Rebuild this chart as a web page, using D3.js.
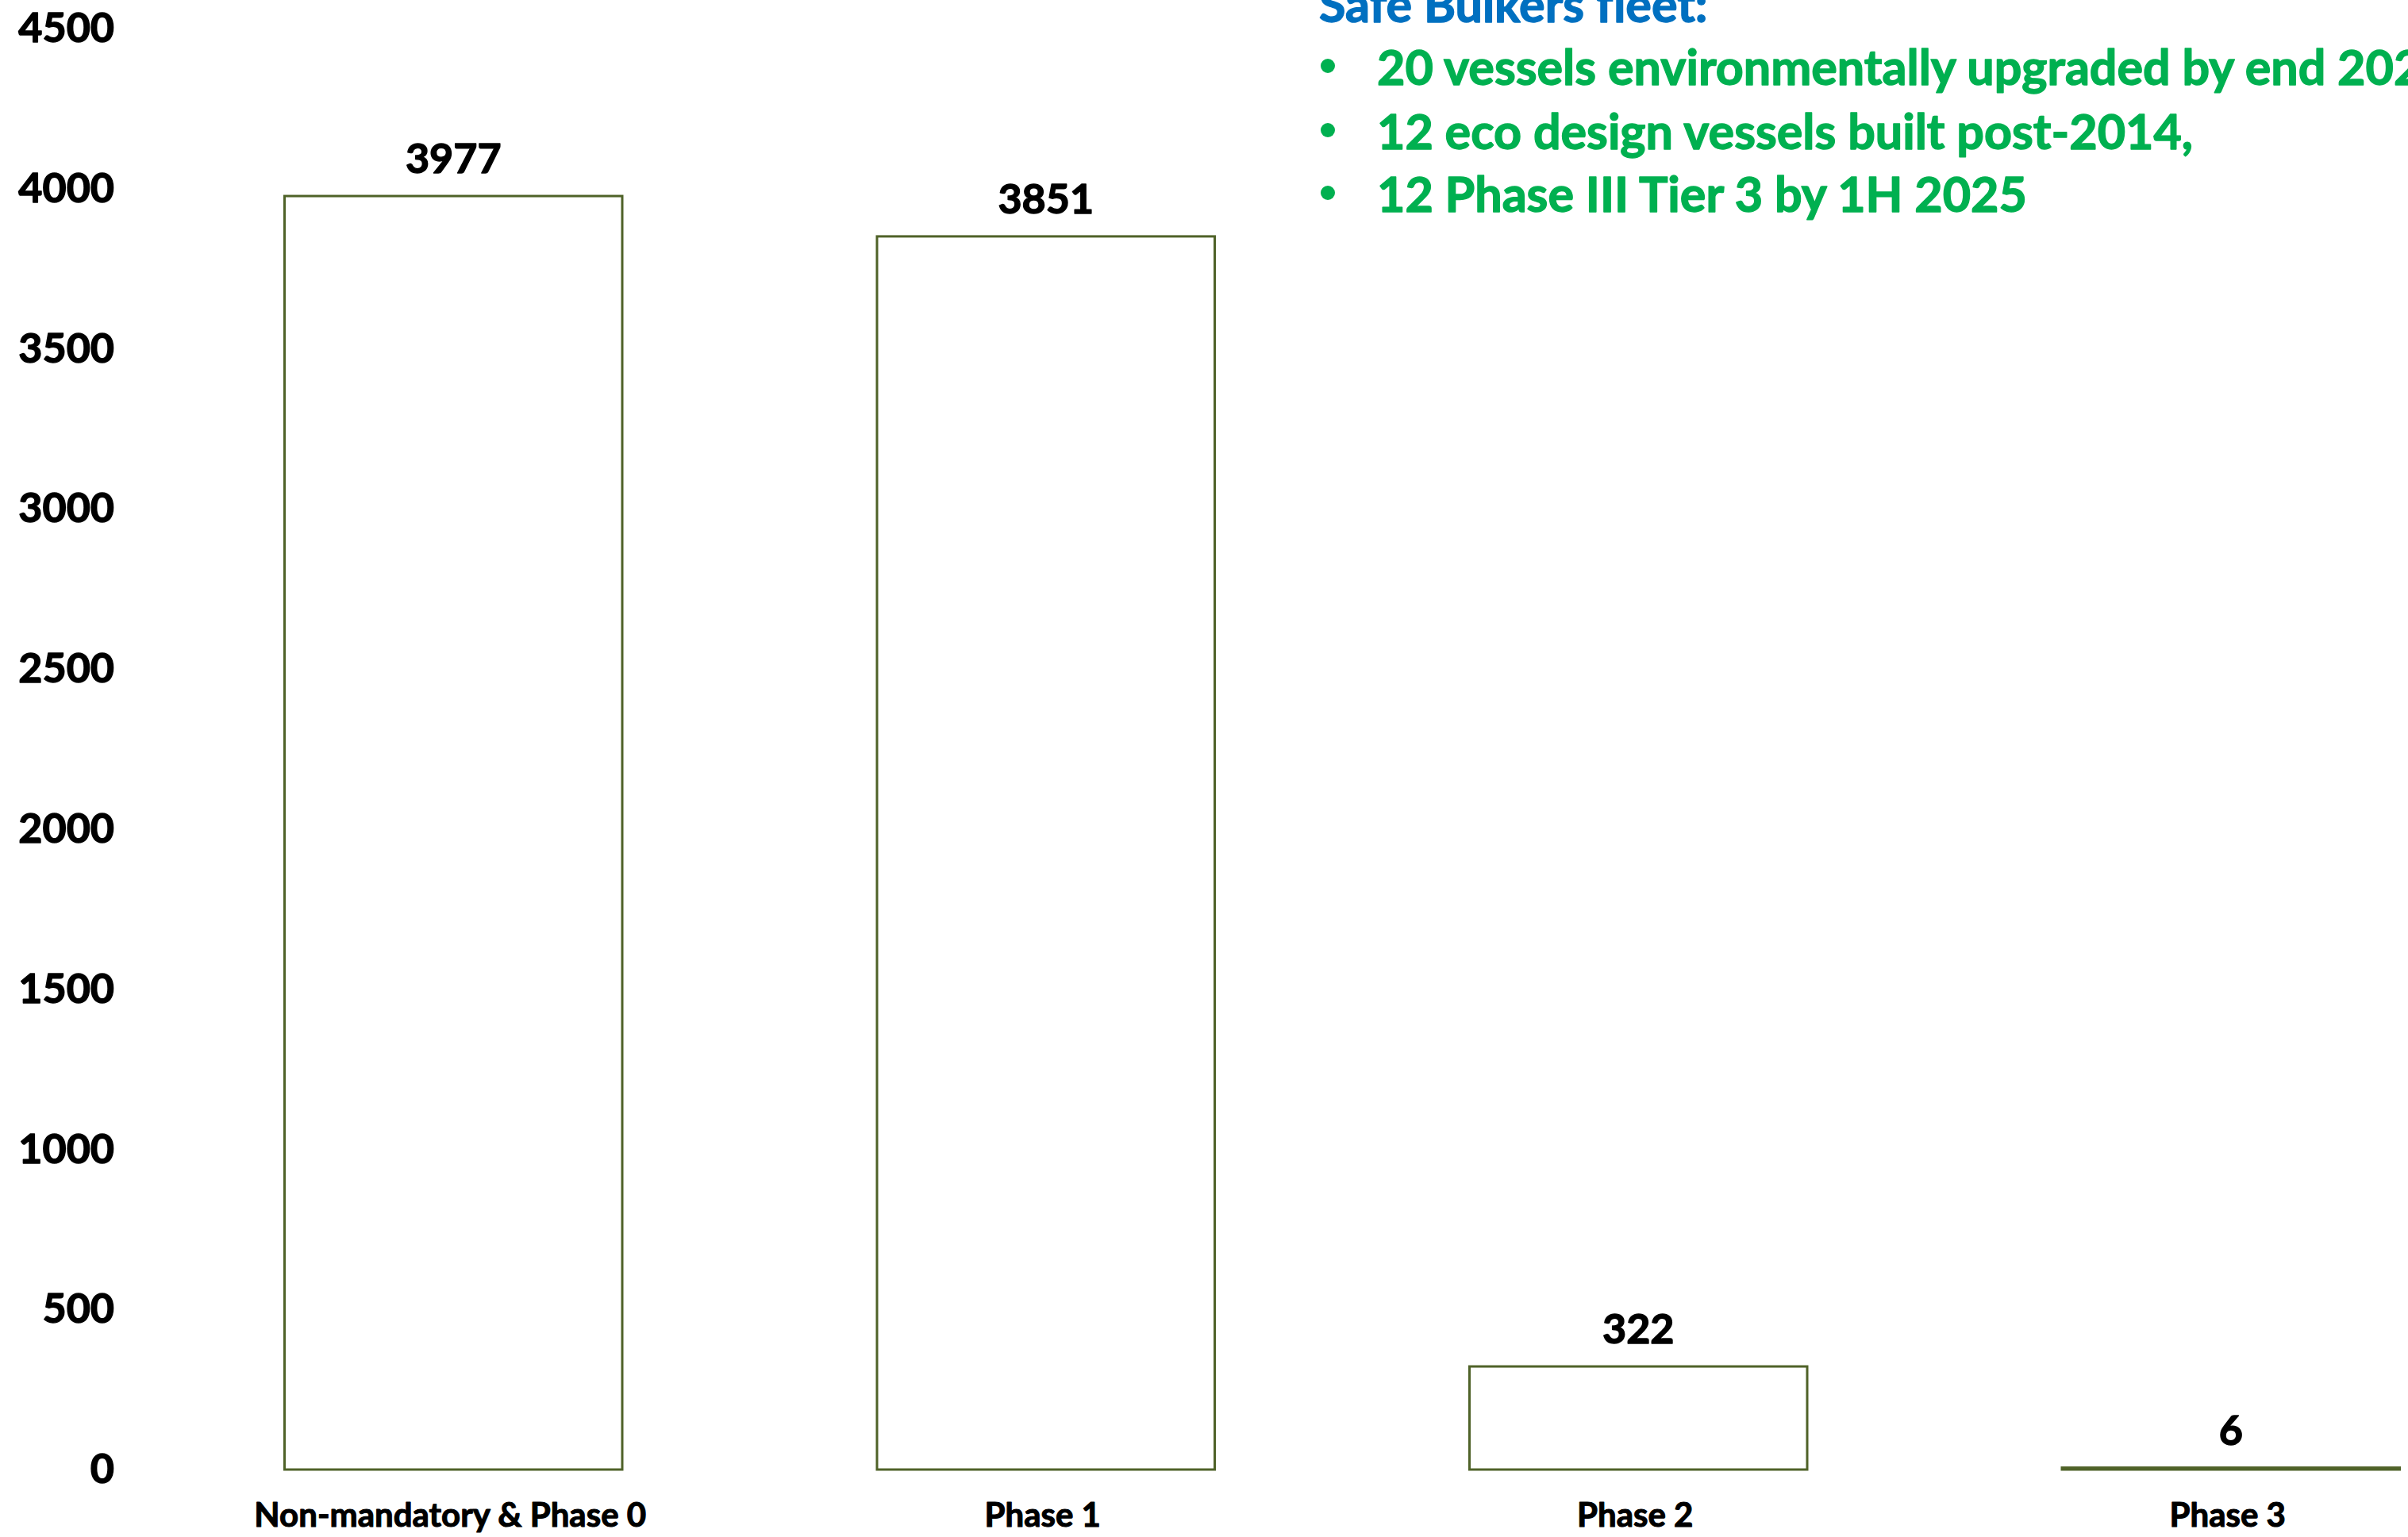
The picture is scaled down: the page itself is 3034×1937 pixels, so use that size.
<!DOCTYPE html>
<html>
<head>
<meta charset="utf-8">
<script src="https://cdn.jsdelivr.net/npm/d3@7"></script>
<style>
  html, body { margin: 0; padding: 0; background: #ffffff; }
  svg { display: block; }
  text { font-family: Lato, "Open Sans", sans-serif; font-weight: 700; }
</style>
</head>
<body>
<svg id="chart" width="3034" height="1937"></svg>
<script>
// Vessel counts by EEDI phase
const categories = ["Non-mandatory & Phase 0", "Phase 1", "Phase 2", "Phase 3"];
const vessels = [3977, 3851, 322, 6];
const yTicks = [0, 500, 1000, 1500, 2000, 2500, 3000, 3500, 4000, 4500];

const noteTitle = "Safe Bulkers fleet:";
const noteItems = [
  "20 vessels environmentally upgraded by end 2023,",
  "12 eco design vessels built post-2014,",
  "12 Phase III Tier 3 by 1H 2025"
];

const svg = d3.select("#chart");

const x = d3.scaleBand()
  .domain(categories)
  .range([198, 3184])
  .paddingInner(0.43)
  .paddingOuter(0.215);

const y = d3.scaleLinear()
  .domain([0, 4500])
  .range([1852, 36]);

// Heavier glyphs: a thin outline in the text colour
function heavy(sel, color, w) {
  sel.attr("fill", color)
    .attr("stroke", color)
    .attr("stroke-width", w)
    .attr("stroke-linejoin", "round");
}

// Value axis: labels only, no line or ticks
const yAxis = svg.append("g")
  .attr("transform", "translate(144,0)")
  .call(d3.axisLeft(y).tickValues(yTicks).tickSize(0).tickPadding(0).tickFormat(d3.format("d")));
yAxis.select(".domain").remove();
yAxis.selectAll("text")
  .attr("font-family", "Lato, 'Open Sans', sans-serif")
  .attr("font-weight", 700)
  .attr("font-size", 52)
  .call(heavy, "#000", 1.4);

// Bars: white fill, dark olive outline
svg.append("g").selectAll("rect")
  .data(vessels)
  .join("rect")
  .attr("x", (d, i) => x(categories[i]))
  .attr("width", x.bandwidth())
  .attr("y", d => y(d))
  .attr("height", d => Math.max(0, y(0) - y(d)))
  .attr("fill", "#ffffff")
  .attr("stroke", "#4F6228")
  .attr("stroke-width", 3);

// Value labels above bars
svg.append("g").selectAll("text")
  .data(vessels)
  .join("text")
  .attr("x", (d, i) => x(categories[i]) + x.bandwidth() / 2)
  .attr("y", d => y(d) - 29)
  .attr("text-anchor", "middle")
  .attr("font-size", 52)
  .call(heavy, "#000", 1.4)
  .text(d => d);

// Category labels
svg.append("g").selectAll("text")
  .data(categories)
  .join("text")
  .attr("x", d => x(d) + x.bandwidth() / 2 - 4)
  .attr("y", 1924)
  .attr("text-anchor", "middle")
  .attr("font-size", 42)
  .call(heavy, "#000", 1.1)
  .text(d => d);

// Fleet note in the upper right
const note = svg.append("g");
note.append("text")
  .attr("x", 1662)
  .attr("y", 28)
  .attr("font-size", 61)
  .call(heavy, "#0070C0", 1.4)
  .text(noteTitle);

const lineY = [107, 188, 267];
noteItems.forEach((t, i) => {
  note.append("circle")
    .attr("cx", 1673)
    .attr("cy", lineY[i] - 24)
    .attr("r", 9)
    .attr("fill", "#00B050");
  note.append("text")
    .attr("x", 1735)
    .attr("y", lineY[i])
    .attr("font-size", 61)
    .call(heavy, "#00B050", 1.4)
    .text(t);
});
</script>
</body>
</html>
